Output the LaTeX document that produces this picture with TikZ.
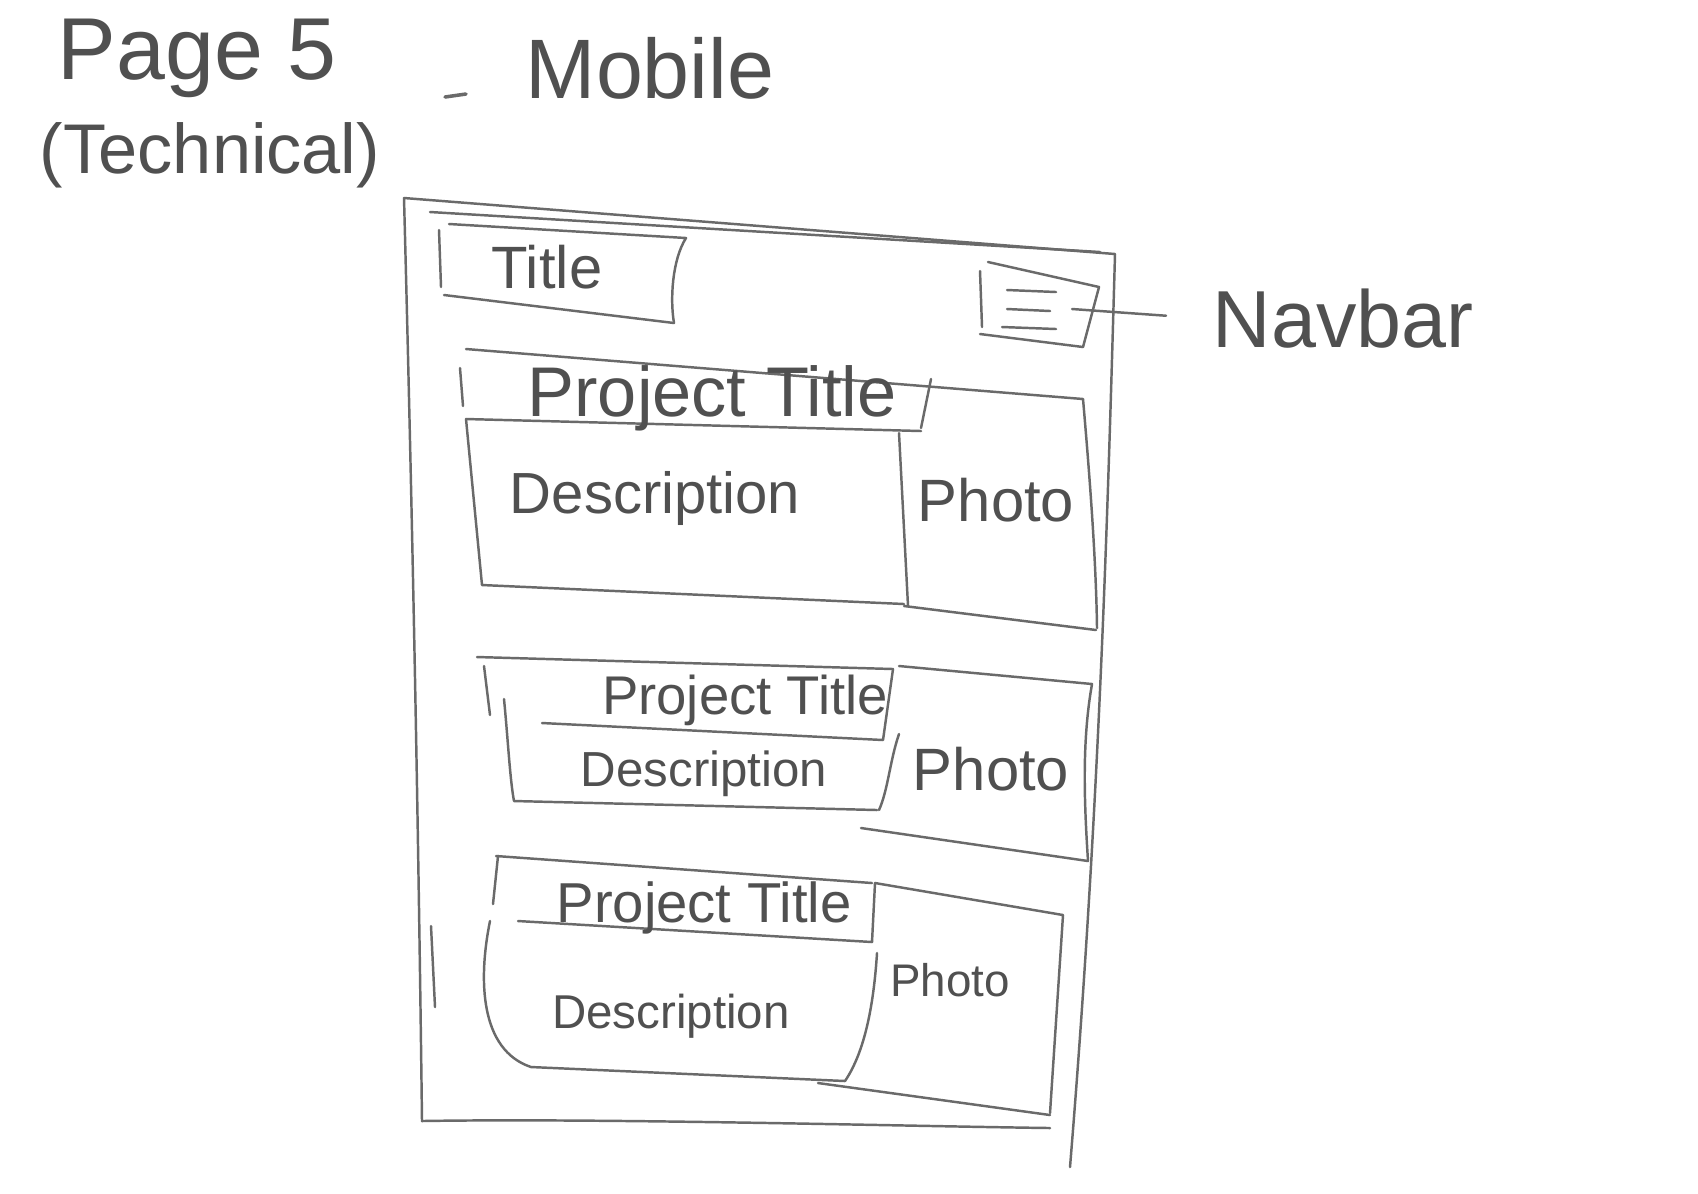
\documentclass[tikz,border=0pt]{standalone}
\usepackage{fontspec}
\setmainfont{Liberation Sans}
\definecolor{penc}{HTML}{6A6A6A}
\definecolor{ink}{HTML}{505050}
\begin{document}
\begin{tikzpicture}[x=0.01cm,y=-0.01cm,
  pencil/.style={draw=penc,line width=0.7pt,line cap=round,line join=round},
  hand/.style={text=ink,inner sep=0pt,anchor=center},
  fs/.style={font=\fontsize{#1}{#1}\selectfont}]
\useasboundingbox[fill=white] (0,0) rectangle (1698,1193);

% heading
\node[hand,fs=25] (page) at (197,58) {Page 5};
\node[hand,fs=20] (technical) at (210,155) {(Technical)};
\coordinate (dashA) at (445,97);
\coordinate (dashB) at (466,94);
\draw[pencil,line width=1pt] (dashA) -- (dashB);
\node[hand,fs=24] (mobile) at (650,68) {Mobile};

% phone frame
\draw[pencil] (404,198) -- (1115,254) .. controls (1108,500) and (1100,800) .. (1070,1167);
\draw[pencil] (430,212) -- (1100,252);
\draw[pencil] (404,198) .. controls (412,500) and (418,800) .. (422,1121)
  .. controls (600,1118) and (900,1126) .. (1050,1128);
\draw[pencil] (431,926) -- (435,1007);

% title box
\draw[pencil] (439,230) -- (441,287);
\draw[pencil] (449,224) -- (686,238) .. controls (672,260) and (670,300) .. (674,323);
\draw[pencil] (444,295) -- (674,323);
\node[hand,fs=17] (titletxt) at (547,267) {Title};

% menu icon
\draw[pencil] (980,271) -- (982,327);
\draw[pencil] (988,262) -- (1099,287) -- (1083,347);
\draw[pencil] (980,334) -- (1083,347);
\draw[pencil] (1007,290) -- (1056,292);
\draw[pencil] (1007,309) -- (1050,311);
\draw[pencil] (1002,327) -- (1056,329);
\node[hand,fs=23] (navbar) at (1343,319) {Navbar};
\coordinate (menu) at (1072,309);
\draw[pencil,shorten >=0.46cm] (menu) -- (navbar.west);

% project card 1
\draw[pencil] (466,349) -- (1083,399) .. controls (1090,480) and (1096,560) .. (1097,628);
\draw[pencil] (460,368) -- (463,406);
\draw[pencil] (931,379) -- (921,428);
\draw[pencil] (466,419) -- (921,431);
\draw[pencil] (466,419) -- (482,585) -- (904,604);
\draw[pencil] (899,433) -- (908,606);
\draw[pencil] (904,606) -- (1096,630);
\node[hand,fs=20] (pt1) at (712,398) {Project Title};
\node[hand,fs=16.5] (desc1) at (655,498) {Description};
\node[hand,fs=17] (photo1) at (996,500) {Photo};

% project card 2
\draw[pencil] (477,657) -- (893,669);
\draw[pencil] (899,666) -- (1092,684) .. controls (1082,740) and (1084,800) .. (1088,861);
\draw[pencil] (484,666) -- (490,715);
\draw[pencil] (504,699) .. controls (508,740) and (510,780) .. (514,801) -- (877,810);
\draw[pencil] (542,723) -- (883,740) -- (893,669);
\draw[pencil] (899,734) .. controls (890,760) and (888,790) .. (879,810);
\draw[pencil] (861,828) -- (1088,861);
\node[hand,fs=15.5] (pt2) at (745,700) {Project Title};
\node[hand,fs=14] (desc2) at (704,774) {Description};
\node[hand,fs=17] (photo2) at (991,769) {Photo};

% project card 3
\draw[pencil] (496,856) -- (872,883);
\draw[pencil] (875,883) -- (1063,915) -- (1050,1113);
\draw[pencil] (498,856) -- (493,904);
\draw[pencil] (490,921) .. controls (478,980) and (480,1050) .. (531,1067) -- (845,1081);
\draw[pencil] (518,921) -- (872,942) -- (875,883);
\draw[pencil] (877,953) .. controls (874,1000) and (866,1050) .. (845,1081);
\draw[pencil] (818,1083) -- (1050,1115);
\node[hand,fs=16] (pt3) at (704,908) {Project Title};
\node[hand,fs=13.5] (desc3) at (671,1016) {Description};
\node[hand,fs=13] (photo3) at (950,980) {Photo};
\end{tikzpicture}
\end{document}
